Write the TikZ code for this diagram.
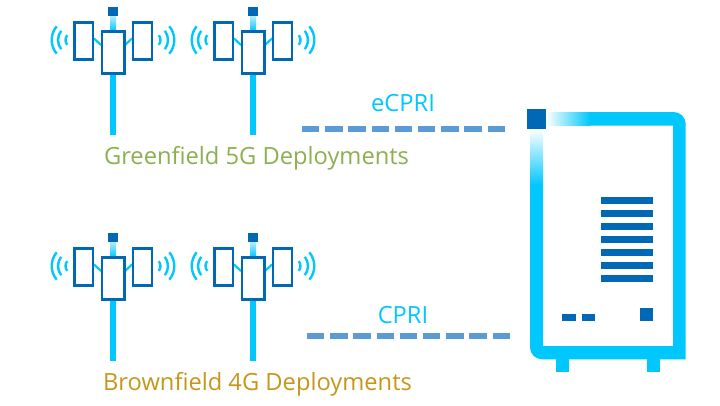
\documentclass[tikz,border=0pt]{standalone}
\usepackage{fontspec}
\setmainfont{Open Sans}
\definecolor{cyanB}{HTML}{00C7FD}
\definecolor{darkB}{HTML}{0068B5}
\definecolor{dashB}{HTML}{5B9BD5}
\definecolor{greenT}{HTML}{8BB04F}
\definecolor{goldT}{HTML}{C4971A}
\tikzset{
 x=1pt,y=-1pt,
 panel/.style={draw=darkB,line width=2.6pt,fill=white},
 wave/.style={draw=cyanB,line width=2.4pt},
 dashlink/.style={draw=dashB,line width=6pt,dash pattern=on 17.4pt off 5.8pt},
 lbl/.style={inner sep=0pt,anchor=base,font=\fontsize{23.7}{27}\selectfont},
 block/.style={fill=darkB},
 mast/.pic={
  \fill[cyanB] (-3,30) rectangle (3,135);
  \shade[top color=cyanB!25,bottom color=cyanB] (-3,15) rectangle (3,31);
  \fill[block] (-4.7,7) rectangle (4.7,16);
  \draw[cyanB,line width=2.2pt] (-19,38.5) -- (-12,45) (19,38.5) -- (12,45);
  \draw[panel] (-38.8,22.2) rectangle (-19.9,59.5);
  \draw[panel] (19.9,22.2) rectangle (38.8,59.5);
  \draw[panel] (-11.2,31.2) rectangle (11.2,73.7);
  \foreach \r/\a in {21.3/40,15/38,7.5/40}{
   \draw[wave] ({-40-\r*cos(\a)},{40-\r*sin(\a)}) arc[start angle={180+\a},end angle={180-\a},radius=\r];
   \draw[wave] ({40+\r*cos(\a)},{40-\r*sin(\a)}) arc[start angle={-\a},end angle={\a},radius=\r];
  }
 }
}
\begin{document}
\begin{tikzpicture}
\useasboundingbox (0,0) rectangle (720,405);
\pic at (113,0) {mast};
\pic at (253,0) {mast};
\pic at (113,226) {mast};
\pic at (253,226) {mast};
% server frame
\fill[cyanB] (590,112) -- (673.7,112) arc[start angle=-90,end angle=0,radius=12]
  -- (685.7,359.3) -- (542,359.3) arc[start angle=90,end angle=180,radius=12]
  -- (530,185) -- (543,185) -- (543,346) -- (673,346) -- (673,125.7) -- (590,125.7) -- cycle;
\shade[left color=white,right color=cyanB] (546,112) rectangle (590.2,125.7);
\shade[top color=white,bottom color=cyanB] (530,129) rectangle (543,185.2);
\fill[block] (526.7,109.3) rectangle (546,129);
\fill[cyanB] (556,359) rectangle (569,372);
\fill[cyanB] (647,359) rectangle (660,372);
\foreach \i in {0,...,6}{
 \fill[block] (601.3,197+13*\i) rectangle (653.3,203.7+13*\i);
}
\fill[block] (562.3,314) rectangle (575.7,320.7);
\fill[block] (582,314) rectangle (595,320.7);
\fill[block] (640.3,307.7) rectangle (653.3,320.7);
% links
\coordinate (ea) at (302,129.3);
\coordinate (eb) at (505,129.3);
\coordinate (ca) at (307,335.7);
\coordinate (cb) at (510,335.7);
\draw[dashlink] (ea) -- (eb);
\draw[dashlink] (ca) -- (cb);
% labels
\node[lbl,text=cyanB] (ecpri) at (403,111.7) {eCPRI};
\node[lbl,text=cyanB] (cpri) at (403,323.3) {CPRI};
\node[lbl,text=greenT] (green) at (256.5,164.3) {Greenfield 5G Deployments};
\node[lbl,text=goldT] (brown) at (257.5,390.3) {Brownfield 4G Deployments};
\end{tikzpicture}
\end{document}
